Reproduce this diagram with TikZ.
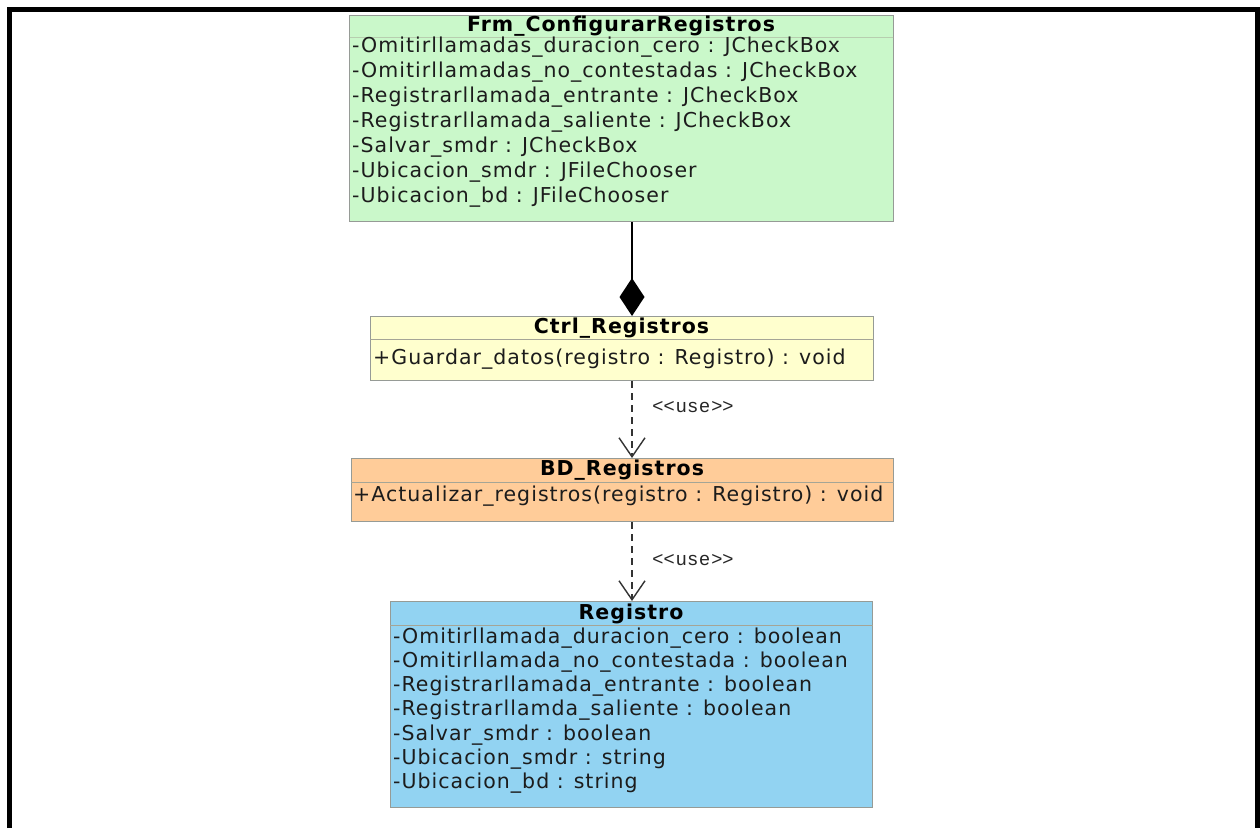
\documentclass[tikz,border=0pt]{standalone}
\usepackage{fontspec}
\setmainfont{DejaVu Sans}
\newfontfamily\umlfont[LetterSpace=5]{DejaVu Sans}
\newfontfamily\stereofont[LetterSpace=8]{Liberation Sans}
\usetikzlibrary{arrows.meta}

\definecolor{frmfill}{RGB}{202,248,202}
\definecolor{ctrlfill}{RGB}{255,255,206}
\definecolor{bdfill}{RGB}{255,204,153}
\definecolor{regfill}{RGB}{146,211,242}
\definecolor{boxline}{RGB}{150,155,150}
\definecolor{sepline}{RGB}{165,165,150}
\definecolor{membertext}{RGB}{28,28,28}

\begin{document}
\begin{tikzpicture}[x=1pt,y=-1pt,
  classbox/.style={draw=boxline,line width=1.3pt,inner sep=0pt,anchor=north west},
  divider/.style={draw=sepline,line width=0.9pt},
  classname/.style={font=\umlfont\fontsize{20.5}{24}\selectfont\bfseries,inner sep=0pt,text=black},
  member/.style={font=\umlfont\fontsize{20.5}{24}\selectfont,inner sep=0pt,anchor=west,text=membertext},
  composition/.style={draw=black,line width=1.6pt,-{Diamond[length=38pt,width=25pt]}},
  usage/.style={draw=black!80,line width=1.4pt,dash pattern=on 7pt off 5pt,
    -{Straight Barb[length=19pt,width=26pt,line width=1.4pt]}},
  stereo/.style={font=\stereofont\fontsize{19}{22}\selectfont,inner sep=0pt,text=black!85}
]
\useasboundingbox (0,0) rectangle (1260,828);
\fill[white] (0,0) rectangle (1260,828);

% outer frame, open at the bottom
\draw[line width=5pt] (9.5,828) -- (9.5,9.5) -- (1257.5,9.5) -- (1257.5,828);

% ---------- Frm_ConfigurarRegistros ----------
\node[classbox,fill=frmfill,minimum width=544pt,minimum height=206pt] (frm) at (349,15) {};
\draw[divider,draw opacity=0.5] ([yshift=-22pt]frm.north west) -- ([yshift=-22pt]frm.north east);
\node[classname] (frmT) at (621,26) {Frm\_ConfigurarRegistros};
\foreach \t [count=\i from 0] in {
  -Omitirllamadas\_duracion\_cero : JCheckBox,
  -Omitirllamadas\_no\_contestadas : JCheckBox,
  -Registrarllamada\_entrante : JCheckBox,
  -Registrarllamada\_saliente : JCheckBox,
  -Salvar\_smdr : JCheckBox,
  -Ubicacion\_smdr : JFileChooser,
  -Ubicacion\_bd : JFileChooser}
  \node[member] (frmA\i) at (352,47+25*\i) {\t};

% ---------- Ctrl_Registros ----------
\node[classbox,fill=ctrlfill,minimum width=503pt,minimum height=64pt] (ctrl) at (370,316) {};
\draw[divider] ([yshift=-23pt]ctrl.north west) -- ([yshift=-23pt]ctrl.north east);
\node[classname] (ctrlT) at (621.5,328) {Ctrl\_Registros};
\node[member] (ctrlM) at (373,359) {+Guardar\_datos(registro : Registro) : void};

% ---------- BD_Registros ----------
\node[classbox,fill=bdfill,minimum width=542pt,minimum height=63pt] (bd) at (351,458) {};
\draw[divider] ([yshift=-24pt]bd.north west) -- ([yshift=-24pt]bd.north east);
\node[classname] (bdT) at (622,470) {BD\_Registros};
\node[member] (bdM) at (353,496) {+Actualizar\_registros(registro : Registro) : void};

% ---------- Registro ----------
\node[classbox,fill=regfill,minimum width=482pt,minimum height=206pt] (reg) at (390,601) {};
\draw[divider] ([yshift=-24pt]reg.north west) -- ([yshift=-24pt]reg.north east);
\node[classname] (regT) at (631,614) {Registro};
\foreach \t [count=\i from 0] in {
  -Omitirllamada\_duracion\_cero : boolean,
  -Omitirllamada\_no\_contestada : boolean,
  -Registrarllamada\_entrante : boolean,
  -Registrarllamda\_saliente : boolean,
  -Salvar\_smdr : boolean,
  -Ubicacion\_smdr : string,
  -Ubicacion\_bd : string}
  \node[member] (regA\i) at (393,638+24.2*\i) {\t};

% ---------- relations ----------
\coordinate (axis) at (632,0);
\draw[composition] (frm.south -| axis) -- (ctrl.north -| axis);
\draw[usage] (ctrl.south -| axis) -- (bd.north -| axis);
\draw[usage] (bd.south -| axis) -- (reg.north -| axis);
\node[stereo] (use1) at (693,407) {<\kern0pt<use>\kern0pt>};
\node[stereo] (use2) at (693,560) {<\kern0pt<use>\kern0pt>};
\end{tikzpicture}
\end{document}
